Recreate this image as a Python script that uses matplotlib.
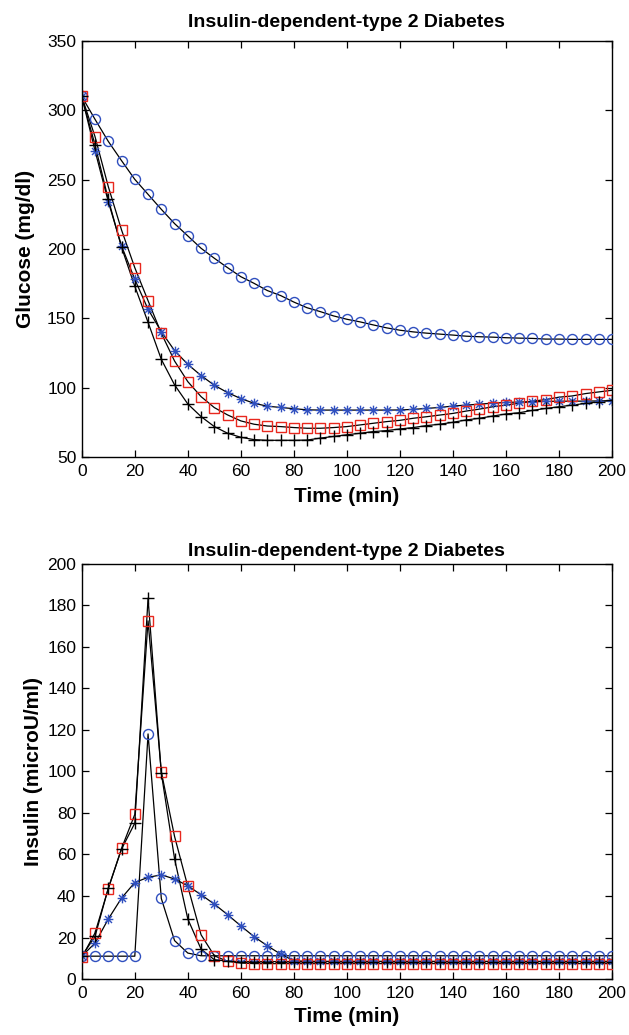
import numpy as np
import matplotlib
matplotlib.use("Agg")
import matplotlib.pyplot as plt
from matplotlib.path import Path

plt.rcParams['font.family'] = ['Liberation Sans', 'DejaVu Sans']

t = list(range(0, 201, 5))

# Glucose (mg/dl)
glu_circle = [310, 293.5, 277.6, 263.7, 250.2, 239.4, 228.6, 218.3, 209.4, 200.5,
              193.3, 186.5, 180, 175.2, 170, 166.4, 161.7, 157.6, 154.8, 151.7,
              149.3, 147.4, 145.2, 143.1, 141.4, 140.2, 139.3, 138.6, 137.9, 137.1,
              136.7, 136.4, 136, 135.7, 135.5, 135, 135, 134.8, 134.8, 134.8, 134.8]
glu_star = [310, 270.9, 234.1, 202.2, 178.1, 156.5, 140.4, 126.7, 116.8, 108.7,
            101.7, 96.4, 92.1, 88.7, 86.6, 85.7, 84.8, 84.0, 83.8, 83.8,
            83.8, 83.8, 83.8, 83.8, 83.9, 84.3, 85, 85.7, 86.7, 87.4,
            88.1, 88.8, 89.3, 89.6, 89.8, 90.0, 90.2, 90.2, 90.3, 90.4, 90.5]
glu_square = [310, 281, 245, 213.7, 186.5, 162.7, 139.2, 119.2, 104.3, 93.5,
              85.6, 80.3, 76, 73.6, 72.3, 71.9, 71.2, 70.7, 70.7, 71.2,
              71.9, 73.1, 74.3, 75.5, 76.4, 77.9, 79, 80.2, 81.4, 83.1,
              84.5, 86.2, 87.4, 88.8, 90.2, 91.4, 93.1, 94, 95.7, 96.9, 98.1]
glu_plus = [310, 275, 235.8, 201.2, 173.1, 147.1, 120.4, 102, 88.2, 79.1,
            71.9, 67.1, 64.2, 62.5, 62.0, 62.0, 62.0, 62.2, 63.6, 64.8,
            66, 67.1, 68.3, 69, 70.2, 71.2, 72.6, 73.6, 75, 76.7,
            77.9, 79.5, 81, 81.9, 83.6, 85, 86.2, 87.4, 88.6, 89.8, 91]

# Insulin (microU/ml)
ins_circle = [11, 11, 11, 11, 11, 118.1, 38.8, 18.5, 12.5, 11.2] + [11.2] * 31
ins_star = [11, 17.3, 28.9, 39, 46.5, 49, 50.2, 48.2, 44.9, 40.6,
            36.1, 31, 25.6, 20.4, 16, 12, 8.8] + [8.5] * 24
ins_square = [10.4, 22.2, 43.5, 62.9, 79.3, 172.6, 99.8, 68.7, 44.6, 21.3,
              11.2, 8.5, 7.7, 7.4] + [7.4] * 27
ins_plus = [11, 20.5, 43.8, 62.6, 75.1, 183.5, 99.2, 57.9, 28.9, 14.4,
            9.3, 8.6, 8.4] + [8.4] * 28

title = "Insulin-dependent-type 2 Diabetes"
xlabel = "Time (min)"
ylabel_top = "Glucose (mg/dl)"
ylabel_bot = "Insulin (microU/ml)"

BLUE = '#2f4fbf'
RED = '#e8281e'

# MATLAB-style asterisk marker (plus + cross)
d = 0.72
ASTER = Path([(0, -1), (0, 1), (-1, 0), (1, 0), (-d, -d), (d, d), (-d, d), (d, -d)],
             [Path.MOVETO, Path.LINETO] * 4)

fig = plt.figure(figsize=(6.29, 10.35), dpi=100)
ax1 = fig.add_axes([0.130, 0.5585, 0.843, 0.4019])
ax2 = fig.add_axes([0.130, 0.0541, 0.843, 0.4010])

def draw(ax, series):
    for y, mk, col, ms in series:
        ax.plot(t, y, '-', color='k', lw=0.9, zorder=2)
        ax.plot(t, y, linestyle='none', marker=mk, mec=col, mfc='none',
                ms=ms, mew=1.0, zorder=3)

draw(ax1, [(glu_circle, 'o', BLUE, 7.2),
           (glu_star, ASTER, BLUE, 7.0),
           (glu_square, 's', RED, 7.0),
           (glu_plus, '+', 'k', 8.0)])
draw(ax2, [(ins_circle, 'o', BLUE, 7.2),
           (ins_star, ASTER, BLUE, 7.0),
           (ins_square, 's', RED, 7.0),
           (ins_plus, '+', 'k', 8.0)])

ax1.set_xlim(0, 200)
ax1.set_ylim(50, 350)
ax1.set_yticks(range(50, 351, 50))
ax2.set_xlim(0, 200)
ax2.set_ylim(0, 200)
ax2.set_yticks(range(0, 201, 20))

for ax, yl, ylp, xlp, tpad in [(ax1, ylabel_top, 9, 6, 10), (ax2, ylabel_bot, 3, 4, 6)]:
    ax.set_xticks(range(0, 201, 20))
    ax.tick_params(direction='in', top=True, right=True, length=5, width=0.9,
                   labelsize=12.5, pad=4)
    ax.tick_params(axis='x', pad=5)
    for s in ax.spines.values():
        s.set_linewidth(1.0)
    ax.set_title(title, fontsize=14, fontweight='bold', pad=tpad)
    ax.set_xlabel(xlabel, fontsize=15, fontweight='bold', labelpad=xlp)
    ax.set_ylabel(yl, fontsize=15, fontweight='bold', labelpad=ylp)

fig.savefig('out.png', dpi=100)
